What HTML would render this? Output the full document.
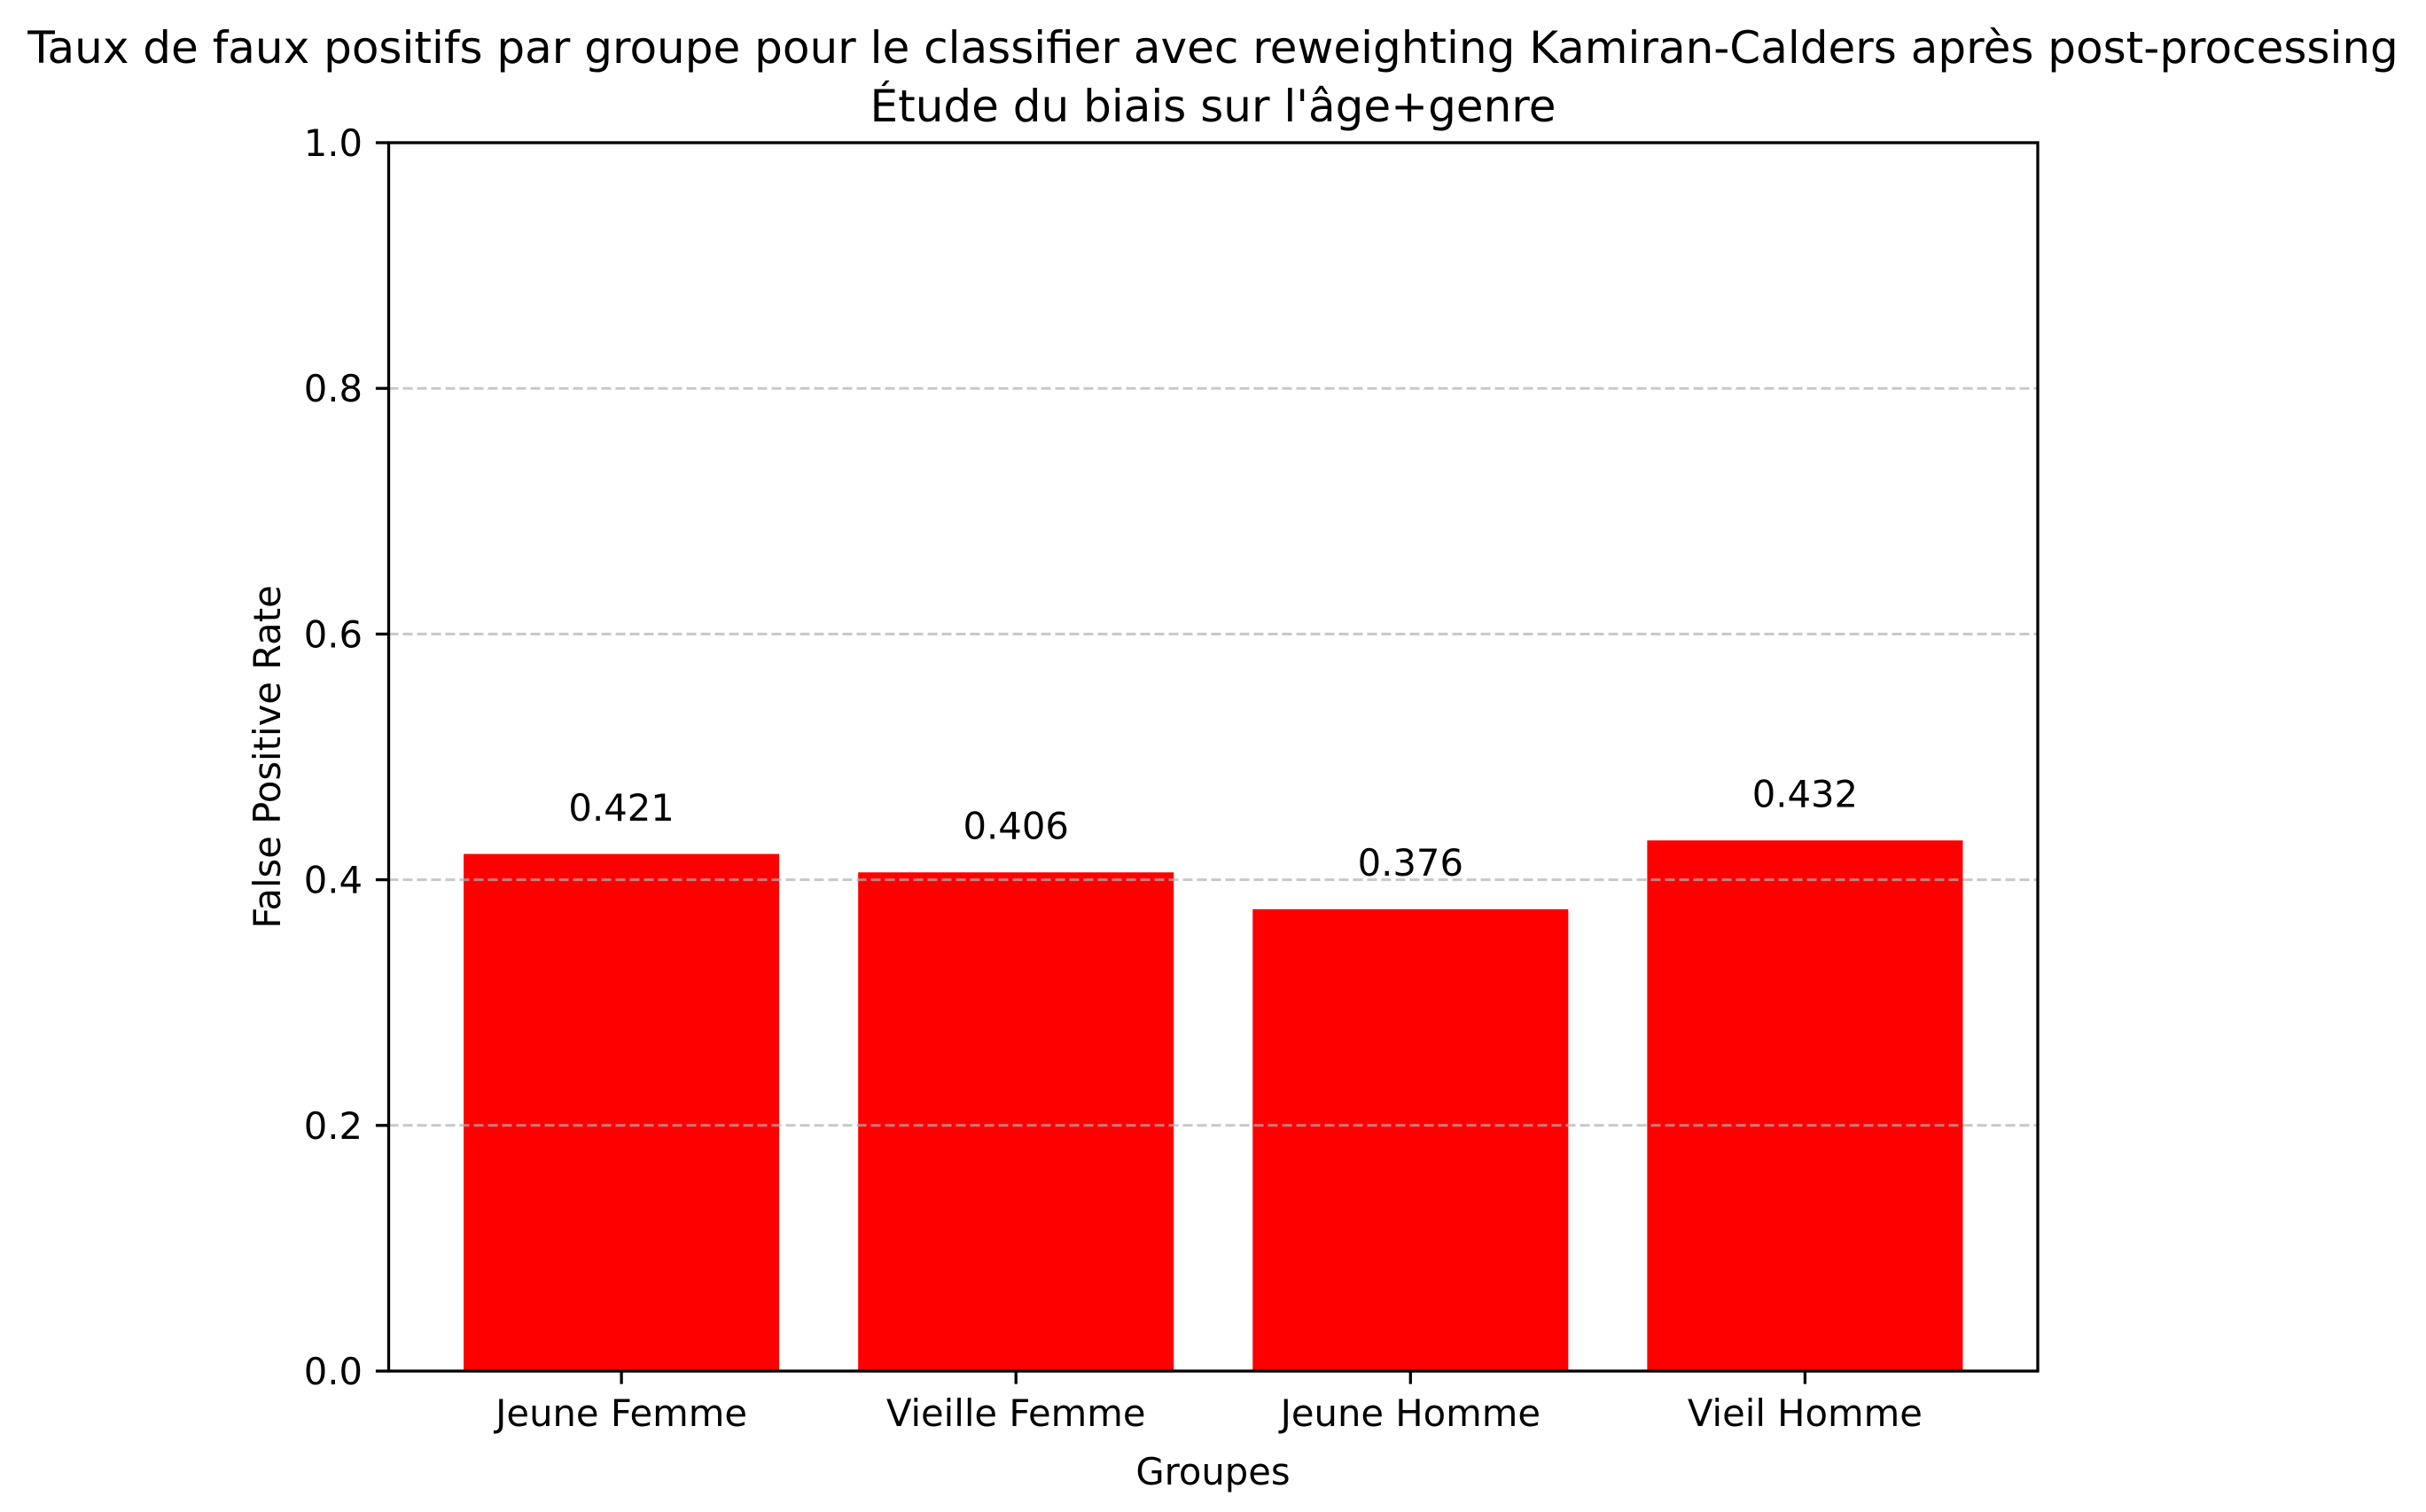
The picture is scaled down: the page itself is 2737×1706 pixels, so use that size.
<!DOCTYPE html>
<html><head><meta charset="utf-8">
<style>
html,body{margin:0;padding:0;background:#fff;}
svg{display:block;font-family:"DejaVu Sans","Liberation Sans",sans-serif;}
</style></head>
<body>
<svg id="chart" width="2737" height="1706" viewBox="0 0 2737 1706" xmlns="http://www.w3.org/2000/svg">
<rect width="2737" height="1706" fill="#fff"/>
<text x="1368.5" y="71" font-size="50" text-anchor="middle" fill="#000">Taux de faux positifs par groupe pour le classifier avec reweighting Kamiran-Calders après post-processing</text>
<text x="1368.5" y="137" font-size="50" text-anchor="middle" fill="#000">Étude du biais sur l'âge+genre</text>
<g id="bars"></g>
<g id="grid"></g>
<g id="yticks"></g>
<g id="xticks"></g>
<g id="labels"></g>
<rect x="438.5" y="161" width="1860.5" height="1386" fill="none" stroke="#000" stroke-width="3.3"/>
<text transform="translate(316,854) rotate(-90)" font-size="41.7" text-anchor="middle" fill="#000">False Positive Rate</text>
<text x="1368.5" y="1675" font-size="41.7" text-anchor="middle" fill="#000">Groupes</text>
</svg>
<script>
const categories = ["Jeune Femme", "Vieille Femme", "Jeune Homme", "Vieil Homme"];
const values = [0.421, 0.406, 0.376, 0.432];
const valueLabels = ["0.421", "0.406", "0.376", "0.432"];
const yTicks = [0.0, 0.2, 0.4, 0.6, 0.8, 1.0];
const yTickLabels = ["0.0", "0.2", "0.4", "0.6", "0.8", "1.0"];

const NS = "http://www.w3.org/2000/svg";
const L = 438.5, R = 2299, T = 161, B = 1547;
const xMin = -0.59, xMax = categories.length - 1 + 0.59;
const xs = v => L + (v - xMin) / (xMax - xMin) * (R - L);
const ys = v => B - v * (B - T);
const barW = 0.8;
function mk(tag, attrs, parent) {
  const e = document.createElementNS(NS, tag);
  for (const k in attrs) e.setAttribute(k, attrs[k]);
  parent.appendChild(e);
  return e;
}
const gBars = document.getElementById("bars");
const gGrid = document.getElementById("grid");
const gY = document.getElementById("yticks");
const gX = document.getElementById("xticks");
const gL = document.getElementById("labels");

values.forEach((v, i) => {
  const x0 = xs(i - barW / 2), x1 = xs(i + barW / 2);
  const r = mk("rect", {x: x0, y: ys(v), width: x1 - x0, height: B - ys(v), fill: "#ff0000"}, gBars);
  
  
  const t = mk("text", {x: xs(i), y: ys(v + 0.02) - 10, "font-size": 41.7, "text-anchor": "middle", fill: "#000"}, gL);
  t.textContent = valueLabels[i];
  
  
  const tk = mk("line", {x1: xs(i), x2: xs(i), y1: B, y2: B + 14.6, stroke: "#000", "stroke-width": 3.3}, gX);
  
  
  const tl = mk("text", {x: xs(i), y: 1609, "font-size": 41.7, "text-anchor": "middle", fill: "#000"}, gX);
  tl.textContent = categories[i];
  
  
});

yTicks.forEach((v, i) => {
  const y = ys(v);
  const g = mk("line", {x1: L, x2: R, y1: y, y2: y, stroke: "#b0b0b0", "stroke-opacity": 0.7, "stroke-width": 3, "stroke-dasharray": "11,5"}, gGrid);
  
  
  const tk = mk("line", {x1: L - 14.6, x2: L, y1: y, y2: y, stroke: "#000", "stroke-width": 3.3}, gY);
  
  
  const tl = mk("text", {x: L - 29.5, y: y + 15, "font-size": 41.7, "text-anchor": "end", fill: "#000"}, gY);
  tl.textContent = yTickLabels[i];
  
  
});
</script>
</body></html>
